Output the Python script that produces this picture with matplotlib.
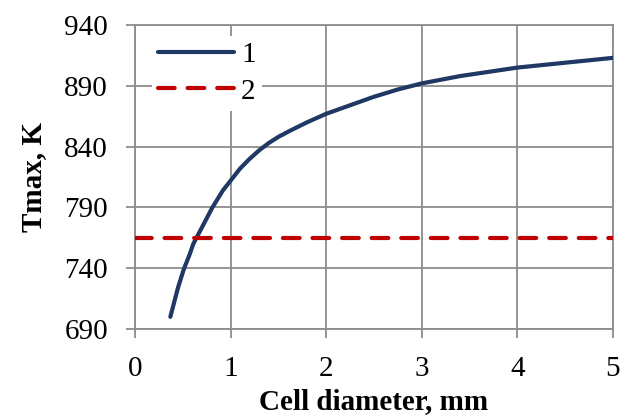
import matplotlib
matplotlib.use("Agg")
import matplotlib.pyplot as plt

# curve 1: Tmax vs cell diameter
diam = [0.37, 0.45, 0.51, 0.575, 0.61, 0.68, 0.81, 0.92, 1.0, 1.1, 1.2, 1.3,
        1.4, 1.5, 1.62, 1.8, 2.0, 2.25, 2.5, 2.75, 3.0, 3.4, 4.0, 4.5, 5.0]
tmax = [700, 724, 739, 752, 760, 770.5, 790, 804, 812, 822, 830, 837,
        843, 848, 853, 860, 867, 874, 881, 887, 892, 898, 905, 909, 913]

# line 2: constant level
level_x = [0, 5]
level_y = [765, 765]

xticks = [0, 1, 2, 3, 4, 5]
yticks = [690, 740, 790, 840, 890, 940]

plt.rcParams['font.family'] = ['Liberation Serif', 'DejaVu Serif']
grey = '#8c8c8c'

fig = plt.figure(figsize=(6.2, 4.17), dpi=100)
ax = fig.add_axes([0.2177, 0.211, 0.771, 0.729])

ax.plot(diam, tmax, color='#1f3864', lw=3, solid_capstyle='round',
        solid_joinstyle='round', label='1', zorder=3)
ax.plot(level_x, level_y, color='#c00000', lw=3, dashes=(4.0, 3.1),
        dash_capstyle='round', label='2', zorder=3)

ax.set_xlim(0, 5)
ax.set_ylim(690, 940)
ax.set_xticks(xticks)
ax.set_yticks(yticks)
ax.grid(True, color=grey, lw=1.3)
ax.set_axisbelow(True)
for s in ax.spines.values():
    s.set_color(grey)
    s.set_linewidth(1.3)
ax.tick_params(direction='out', length=6.5, width=1.3, color=grey,
               labelsize=21)
ax.tick_params(axis='x', pad=13)
ax.tick_params(axis='y', pad=13)

ax.set_xlabel('Cell diameter, mm', fontsize=21, fontweight='bold', labelpad=4)
ax.set_ylabel('Tmax, K', fontsize=21, fontweight='bold', labelpad=12)

leg = ax.legend(loc='upper left', bbox_to_anchor=(0.03, 0.975), fontsize=21,
                frameon=True, fancybox=False, edgecolor='none',
                facecolor='white', framealpha=1, handlelength=2.6,
                handletextpad=0.25, labelspacing=0.36, borderpad=0.2,
                borderaxespad=0.1)

fig.savefig('out.png', dpi=100)
